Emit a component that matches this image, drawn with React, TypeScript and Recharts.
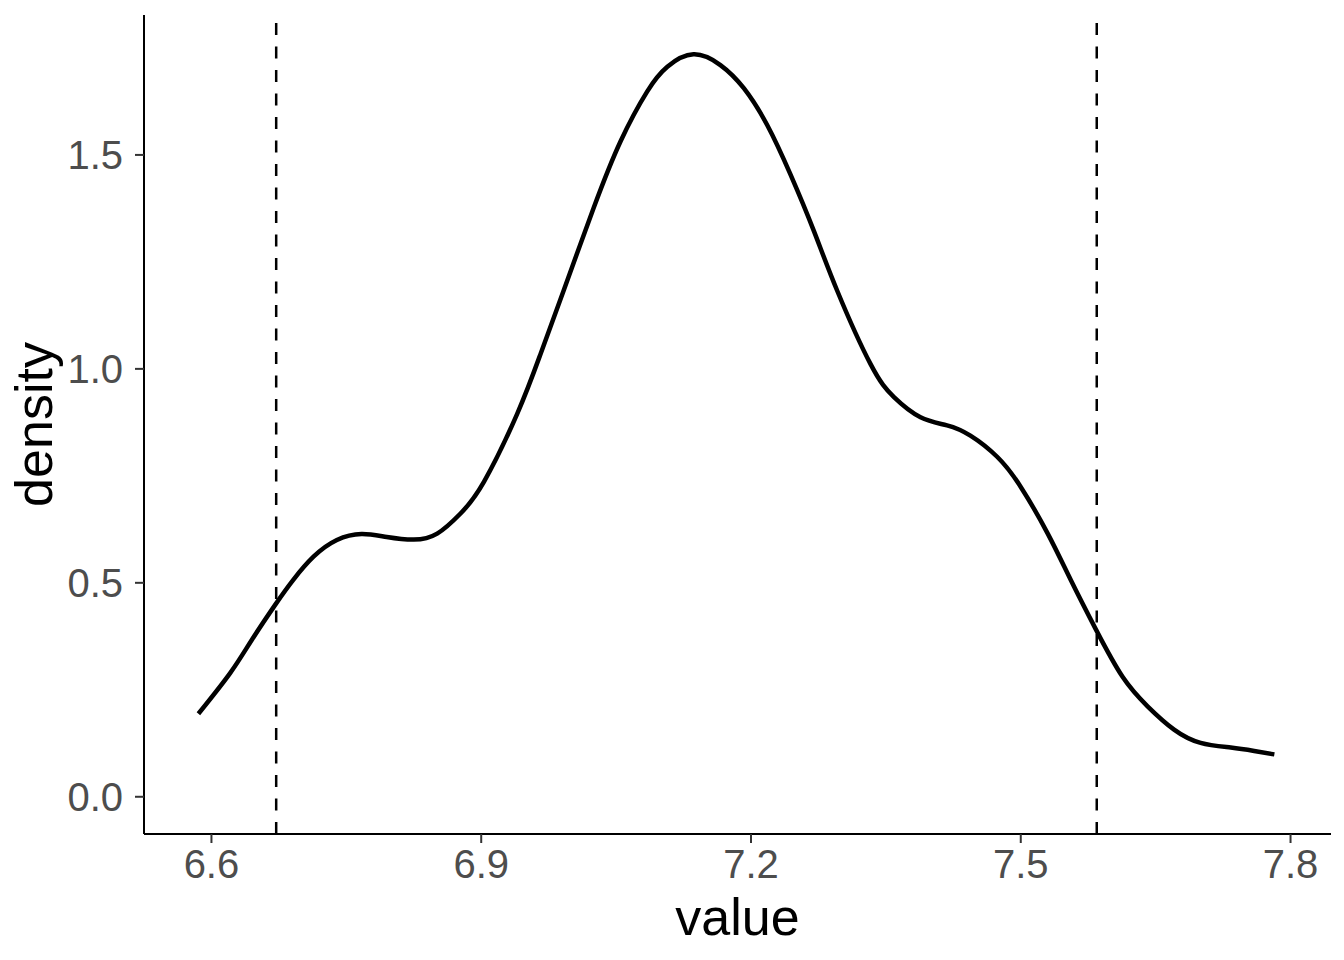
import { LineChart, Line, XAxis, YAxis, ReferenceLine } from "recharts";

// density curve
const valueX = [
  6.5855, 6.6208, 6.645, 6.672, 6.691, 6.7135, 6.7395, 6.767, 6.795, 6.825,
  6.851, 6.877, 6.903, 6.94, 6.966, 6.992, 7.025, 7.055, 7.0845,
  7.107, 7.136, 7.166, 7.192, 7.218, 7.244, 7.27, 7.296,
  7.333, 7.359, 7.3885, 7.418, 7.444, 7.474, 7.5, 7.53, 7.5555, 7.5838,
  7.613, 7.641, 7.6705, 7.7, 7.7335, 7.7596, 7.782,
];
const densityY = [
  0.194, 0.289, 0.367, 0.452, 0.507, 0.561, 0.6, 0.614, 0.607, 0.601,
  0.615, 0.662, 0.736, 0.895, 1.035, 1.185, 1.376, 1.532, 1.648,
  1.706, 1.735, 1.71, 1.656, 1.57, 1.454, 1.322, 1.182,
  1.011, 0.934, 0.887, 0.868, 0.844, 0.794, 0.724, 0.615, 0.507, 0.39,
  0.281, 0.2115, 0.157, 0.126, 0.115, 0.107, 0.099,
];
const cutoffs = [6.672, 7.5845];
const xTicks = [6.6, 6.9, 7.2, 7.5, 7.8];
const yTicks = [0, 0.5, 1.0, 1.5];

const FONT = "'Liberation Sans', Arial, Helvetica, sans-serif";

const YTitle = ({ viewBox }: any) => {
  const cy = viewBox.y + viewBox.height / 2;
  return (
    <text
      transform={`translate(52, ${cy}) rotate(-90)`}
      textAnchor="middle"
      fontSize={52}
      fontFamily={FONT}
      fill="#000"
    >
      density
    </text>
  );
};

export default function App() {
  const data = valueX.map((x, i) => ({ x, y: densityY[i] }));

  return (
    <div style={{ position: "absolute", left: 0, top: 0, background: "#fff" }}>
      <LineChart
        width={1344}
        height={960}
        data={data}
        margin={{ top: 15, right: 13, bottom: 0, left: 0 }}
      >
        <XAxis
          dataKey="x"
          type="number"
          domain={[6.525, 7.845]}
          ticks={xTicks}
          allowDataOverflow
          height={126}
          tickSize={9}
          tickMargin={7}
          stroke="#000"
          strokeWidth={2}
          tickFormatter={(v: number) => v.toFixed(1)}
          tick={{ fill: "#4D4D4D", fontSize: 40, fontFamily: FONT }}
          tickLine={{ stroke: "#333", strokeWidth: 2 }}
          label={{
            value: "value",
            position: "insideBottom",
            offset: 25,
            fontSize: 52,
            fontFamily: FONT,
            fill: "#000",
          }}
        />
        <YAxis
          type="number"
          domain={[-0.087, 1.827]}
          ticks={yTicks}
          allowDataOverflow
          width={144}
          tickSize={9}
          tickMargin={12}
          stroke="#000"
          strokeWidth={2}
          tickFormatter={(v: number) => v.toFixed(1)}
          tick={{ fill: "#4D4D4D", fontSize: 40, fontFamily: FONT }}
          tickLine={{ stroke: "#333", strokeWidth: 2 }}
          label={<YTitle />}
        />
        {cutoffs.map((c) => (
          <ReferenceLine
            key={c}
            x={c}
            stroke="#000"
            strokeWidth={2.5}
            strokeDasharray="12 11.5"
          />
        ))}
        <Line
          type="natural"
          dataKey="y"
          stroke="#000"
          strokeWidth={4.5}
          dot={false}
          activeDot={false}
          isAnimationActive={false}
        />
      </LineChart>
    </div>
  );
}
